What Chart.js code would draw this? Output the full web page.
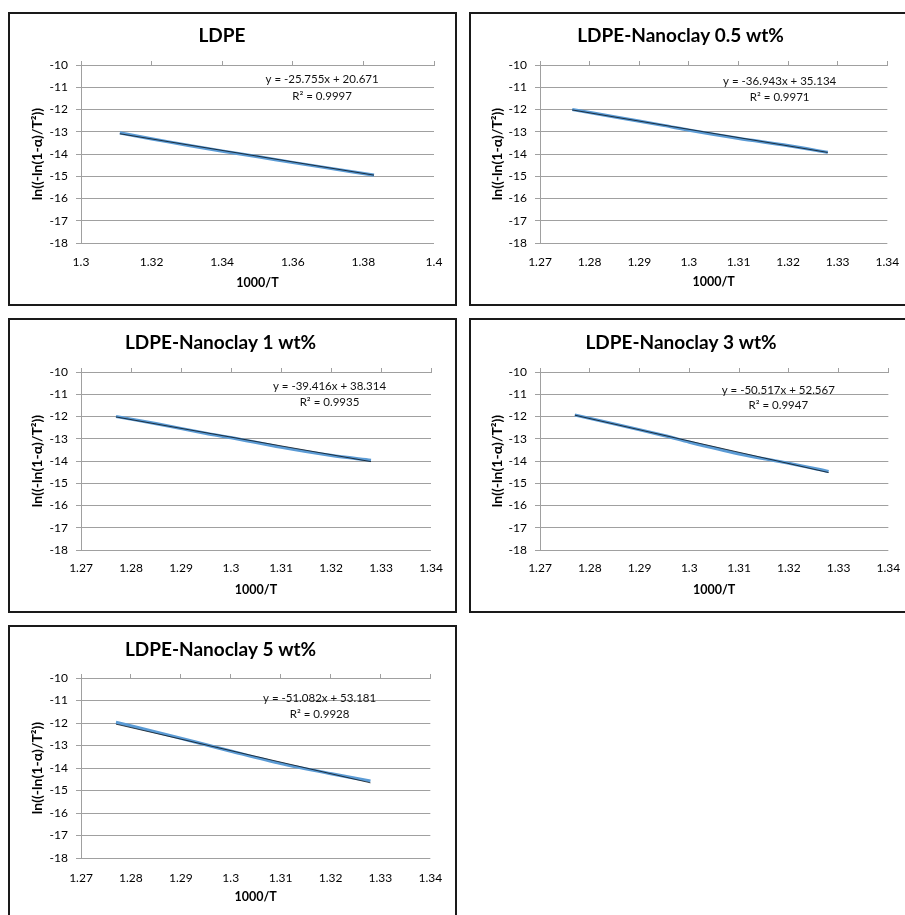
<!DOCTYPE html>
<html>
<head>
<meta charset="utf-8">
<script src="https://cdn.jsdelivr.net/npm/chart.js@4.4.0/dist/chart.umd.min.js"></script>
<style>
  html, body { margin: 0; padding: 0; background: #fff; overflow: hidden; width: 905px; height: 915px; }
  .panel { position: absolute; border: 2px solid #1a1a1a; background: #fff; }
  .panel canvas { display: block; }
</style>
</head>
<body>
<div class="panel" style="left:8px;top:12px;"><canvas id="c1" width="445" height="290"></canvas></div>
<div class="panel" style="left:469px;top:12px;"><canvas id="c2" width="440" height="290"></canvas></div>
<div class="panel" style="left:8px;top:318px;"><canvas id="c3" width="445" height="291"></canvas></div>
<div class="panel" style="left:469px;top:318px;"><canvas id="c4" width="440" height="291"></canvas></div>
<div class="panel" style="left:8px;top:625px;"><canvas id="c5" width="445" height="290"></canvas></div>

<script>
// Datos
const titles = [
  "LDPE",
  "LDPE-Nanoclay 0.5 wt%",
  "LDPE-Nanoclay 1 wt%",
  "LDPE-Nanoclay 3 wt%",
  "LDPE-Nanoclay 5 wt%",
];
const equations = [
  ["y = -25.755x + 20.671", "R² = 0.9997"],
  ["y = -36.943x + 35.134", "R² = 0.9971"],
  ["y = -39.416x + 38.314", "R² = 0.9935"],
  ["y = -50.517x + 52.567", "R² = 0.9947"],
  ["y = -51.082x + 53.181", "R² = 0.9928"],
];

const xLdpe = [1.311, 1.32, 1.33, 1.34, 1.35, 1.36, 1.37, 1.383];
const yLdpe = [-13.05, -13.32, -13.6, -13.87, -14.12, -14.38, -14.63, -14.95];

const xNc05 = [1.2765, 1.285, 1.295, 1.3, 1.31, 1.32, 1.328];
const yNc05 = [-12.0, -12.33, -12.72, -12.93, -13.3, -13.62, -13.93];

const xNc1 = [1.277, 1.285, 1.295, 1.3, 1.31, 1.32, 1.328];
const yNc1 = [-12.0, -12.32, -12.76, -12.95, -13.38, -13.75, -13.97];

const xNc3 = [1.277, 1.285, 1.295, 1.3, 1.31, 1.315, 1.32, 1.328];
const yNc3 = [-11.93, -12.34, -12.86, -13.15, -13.68, -13.9, -14.1, -14.47];

const xNc5 = [1.277, 1.285, 1.293, 1.3, 1.31, 1.32, 1.328];
const yNc5 = [-11.97, -12.4, -12.85, -13.25, -13.8, -14.25, -14.58];

// extremos de las rectas de tendencia (negras)
const trendX = [[1.311, 1.383], [1.2765, 1.328], [1.277, 1.328], [1.277, 1.328], [1.277, 1.328]];
const trendY = [[-13.09, -14.95], [-12.02, -13.93], [-12.02, -14.03], [-11.94, -14.52], [-12.05, -14.66]];

const xTicksLdpe = [1.3, 1.32, 1.34, 1.36, 1.38, 1.4];
const xTickLabelsLdpe = ["1.3", "1.32", "1.34", "1.36", "1.38", "1.4"];
const xTicksNc = [1.27, 1.28, 1.29, 1.3, 1.31, 1.32, 1.33, 1.34];
const xTickLabelsNc = ["1.27", "1.28", "1.29", "1.3", "1.31", "1.32", "1.33", "1.34"];
const yTicks = [-10, -11, -12, -13, -14, -15, -16, -17, -18];
const yTickLabels = ["-10", "-11", "-12", "-13", "-14", "-15", "-16", "-17", "-18"];

const xTitle = "1000/T";
const yTitle = "ln((-ln(1-α)/T²))";

// Geometría de cada panel (coordenadas dentro del canvas)
const FONT = "Lato, 'Open Sans', sans-serif";
const panels = [
  { id: "c1", xs: xLdpe, ys: yLdpe, ticks: xTicksLdpe, labels: xTickLabelsLdpe,
    area: { left: 71, right: 424, top: 51, bottom: 229 }, titleY: 22, yTitleX: 27, xLabY: 248, xTitleY: 269, eq: [0.683, 14, 31] },
  { id: "c2", xs: xNc05, ys: yNc05, ticks: xTicksNc, labels: xTickLabelsNc,
    area: { left: 69, right: 419, top: 51, bottom: 229 }, titleY: 22, yTitleX: 26, xLabY: 248, xTitleY: 268, eq: [0.69, 16, 32] },
  { id: "c3", xs: xNc1, ys: yNc1, ticks: xTicksNc, labels: xTickLabelsNc,
    area: { left: 71, right: 421, top: 52, bottom: 230 }, titleY: 23, yTitleX: 27, xLabY: 248, xTitleY: 270, eq: [0.71, 14, 30] },
  { id: "c4", xs: xNc3, ys: yNc3, ticks: xTicksNc, labels: xTickLabelsNc,
    area: { left: 69, right: 420, top: 52, bottom: 230 }, titleY: 23, yTitleX: 26, xLabY: 248, xTitleY: 270, eq: [0.684, 18, 33] },
  { id: "c5", xs: xNc5, ys: yNc5, ticks: xTicksNc, labels: xTickLabelsNc,
    area: { left: 71, right: 421, top: 51, bottom: 231 }, titleY: 23, yTitleX: 27, xLabY: 251, xTitleY: 270, eq: [0.683, 20, 36] },
];

// Texto de la ecuación dentro del área del gráfico
const equationPlugin = {
  id: "equation",
  afterDatasetsDraw(chart, args, opts) {
    const a = chart.chartArea;
    const ctx = chart.ctx;
    const cx = a.left + opts.fx * (a.right - a.left);
    ctx.save();
    ctx.font = "11.5px " + FONT;
    ctx.fillStyle = "#111";
    ctx.textAlign = "center";
    ctx.textBaseline = "middle";
    ctx.fillText(opts.lines[0], cx, a.top + opts.dy1);
    ctx.fillText(opts.lines[1], cx, a.top + opts.dy2);
    ctx.restore();
  },
};

const GRID = "#a0a0a0";
const TITLE_SIZE = 19;
const TICK_SIZE = 12;
const X_TITLE_SIZE = 12.5;
const Y_TITLE_SIZE = 14;

panels.forEach((p, i) => {
  const canvas = document.getElementById(p.id);
  const W = canvas.width, H = canvas.height;
  const titleLh = TITLE_SIZE * 1.2;
  const tickLh = TICK_SIZE * 1.2;
  const titleTop = p.titleY - titleLh / 2;

  new Chart(canvas, {
    type: "scatter",
    data: {
      datasets: [
        {
          // serie medida (azul), debajo de la recta
          data: p.xs.map((x, k) => ({ x: x, y: p.ys[k] })),
          showLine: true,
          borderColor: "#5b9bd5",
          borderWidth: 3.2,
          pointRadius: 0,
          tension: 0.3,
          order: 2,
        },
        {
          // recta de ajuste lineal (negra), encima
          data: trendX[i].map((x, k) => ({ x: x, y: trendY[i][k] })),
          showLine: true,
          borderColor: "rgba(0,0,0,0.7)",
          borderWidth: 1,
          pointRadius: 0,
          order: 1,
        },
      ],
    },
    options: {
      responsive: false,
      animation: false,
      events: [],
      layout: { padding: { left: 0, top: 0, right: W - p.area.right, bottom: 0 } },
      plugins: {
        legend: { display: false },
        tooltip: { enabled: false },
        title: {
          display: true,
          text: titles[i],
          color: "#000",
          font: { family: FONT, size: TITLE_SIZE, weight: "bold" },
          padding: { top: titleTop, bottom: p.area.top - titleTop - titleLh },
        },
        equation: { lines: equations[i], fx: p.eq[0], dy1: p.eq[1], dy2: p.eq[2] },
      },
      scales: {
        x: {
          type: "linear",
          position: "bottom",
          min: p.ticks[0],
          max: p.ticks[p.ticks.length - 1],
          afterBuildTicks: (s) => { s.ticks = p.ticks.map((v) => ({ value: v })); },
          afterFit: (s) => { s.height = H - p.area.bottom; },
          grid: { display: false, drawTicks: false },
          border: { display: false },
          ticks: {
            padding: p.xLabY - p.area.bottom - tickLh / 2,
            color: "#000",
            font: { family: FONT, size: TICK_SIZE },
            maxRotation: 0,
            autoSkip: false,
            callback: (v, k) => p.labels[k],
          },
          title: {
            display: true,
            text: xTitle,
            color: "#000",
            font: { family: FONT, size: X_TITLE_SIZE, weight: "bold" },
            padding: { top: 0, bottom: H - p.xTitleY - X_TITLE_SIZE * 0.6 },
          },
        },
        xTop: {
          type: "linear",
          position: "top",
          min: p.ticks[0],
          max: p.ticks[p.ticks.length - 1],
          afterBuildTicks: (s) => { s.ticks = p.ticks.map((v) => ({ value: v })); },
          afterFit: (s) => { s.height = 0; },
          grid: { drawOnChartArea: false, tickLength: 4, color: GRID },
          border: { display: true, color: GRID },
          ticks: { display: false },
        },
        y: {
          type: "linear",
          min: -18,
          max: -10,
          afterBuildTicks: (s) => { s.ticks = yTicks.map((v) => ({ value: v })); },
          afterFit: (s) => { s.width = p.area.left; },
          grid: { color: GRID, tickLength: 5 },
          border: { display: true, color: GRID },
          ticks: {
            padding: 8,
            color: "#000",
            font: { family: FONT, size: TICK_SIZE },
            callback: (v, k) => yTickLabels[k],
          },
          title: {
            display: true,
            text: yTitle,
            color: "#000",
            font: { family: FONT, size: Y_TITLE_SIZE, weight: "bold" },
            padding: { top: p.yTitleX - Y_TITLE_SIZE * 0.6, bottom: 0 },
          },
        },
      },
    },
    plugins: [equationPlugin],
  });
});
</script>
</body>
</html>
